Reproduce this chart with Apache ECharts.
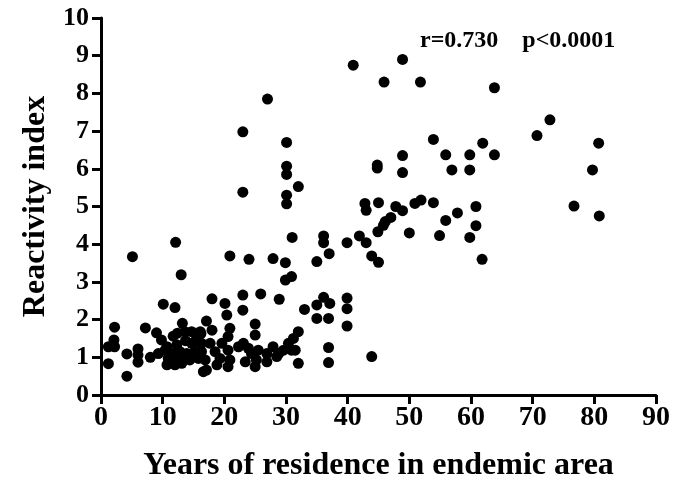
<!DOCTYPE html>
<html>
<head>
<meta charset="utf-8">
<script src="https://cdn.jsdelivr.net/npm/echarts@6/dist/echarts.min.js"></script>
<style>
html,body{margin:0;padding:0;background:#fff;}
#chart{width:684px;height:477px;}
</style>
</head>
<body>
<div id="chart"></div>
<script>
var years = [
  40.9, 48.9, 45.9, 51.8, 63.8, 27.0, 23.0, 72.8, 70.7, 53.9,
  30.1, 80.7, 61.9, 48.9, 55.9, 59.8, 63.8, 30.1, 30.1, 44.8,
  44.8, 48.9, 56.9, 59.8, 79.7, 32.0, 23.0, 30.1, 30.1, 42.8,
  43.0, 45.0, 47.8, 48.9, 50.9, 51.9, 53.9, 60.8, 76.7, 80.8,
  57.8, 55.9, 60.8, 47.0, 46.1, 45.8, 44.9, 50.0, 54.9, 59.8,
  41.9, 43.0, 39.9, 36.1, 36.1, 31.0, 12.1, 43.9, 45.0, 61.8,
  37.0, 35.0, 5.1, 20.9, 24.0, 27.9, 29.9, 29.9, 30.9, 13.0,
  10.1, 12.0, 18.0, 20.1, 23.0, 25.9, 28.9, 23.0, 20.4, 33.0,
  35.0, 36.1, 37.1, 39.9, 39.9, 35.0, 36.9, 39.9, 25.0, 17.1,
  18.0, 20.9, 16.1, 32.0, 20.6, 25.0, 31.2, 36.9, 36.9, 43.9,
  31.5, 32.0,
  2.2, 7.2, 9.0, 13.2, 2.1, 1.2, 2.2, 4.2, 1.2, 4.2,
  6.0, 6.0, 6.0, 8.0, 9.8, 10.7, 11.7, 12.4, 13.6, 14.7,
  15.5, 16.2, 13.7, 12.3, 14.7, 16.3, 9.3, 10.4, 11.5, 12.8,
  13.9, 15.2, 10.9, 12.3, 13.3, 14.4, 15.8, 12.0, 13.1, 10.7,
  16.6,
  15.8, 17.7, 19.6, 23.1, 30.4, 20.6, 23.9, 25.5, 27.9, 29.6,
  16.3, 18.5, 22.3, 24.4, 26.9, 28.8, 30.9, 16.9, 19.3, 20.9,
  25.2, 26.9, 28.5, 23.4, 25.0, 17.1, 20.6, 18.8
];
var reactivity = [
  8.75, 8.9, 8.3, 8.3, 8.15, 7.85, 6.98, 7.3, 6.88, 6.78,
  6.7, 6.68, 6.68, 6.35, 6.37, 6.37, 6.37, 6.07, 5.85, 6.1,
  6.02, 5.9, 5.97, 5.97, 5.97, 5.53, 5.38, 5.3, 5.07, 5.08,
  4.9, 5.1, 5.0, 4.89, 5.08, 5.17, 5.1, 5.0, 5.01, 4.75,
  4.83, 4.63, 4.49, 4.71, 4.6, 4.5, 4.33, 4.3, 4.23, 4.18,
  4.22, 4.04, 4.04, 4.22, 4.04, 4.18, 4.05, 3.69, 3.52, 3.6,
  3.75, 3.54, 3.67, 3.69, 3.6, 3.62, 3.51, 3.05, 3.14, 3.19,
  2.41, 2.32, 2.55, 2.43, 2.65, 2.68, 2.54, 2.25, 2.12, 2.27,
  2.39, 2.59, 2.43, 2.57, 2.29, 2.03, 2.03, 1.83, 1.88, 1.96,
  1.72, 1.77, 1.68, 1.68, 1.55, 1.59, 1.5, 1.26, 0.86, 1.02,
  1.19, 0.84,
  1.80, 1.78, 1.65, 1.9, 1.46, 1.28, 1.28, 1.09, 0.83, 0.5,
  1.22, 1.06, 0.87, 1.0, 1.46, 1.28, 1.56, 1.64, 1.68, 1.68,
  1.55, 1.63, 1.44, 1.33, 1.37, 1.37, 1.10, 1.19, 1.10, 1.15,
  1.10, 1.15, 0.97, 0.93, 0.97, 0.93, 0.97, 0.80, 0.84, 0.80,
  0.62,
  1.41, 1.37, 1.37, 1.37, 1.37, 1.19, 1.24, 1.19, 1.28, 1.19,
  1.15, 1.15, 1.28, 1.10, 1.10, 1.10, 1.19, 0.93, 0.97, 0.93,
  0.93, 0.88, 1.02, 0.88, 0.75, 0.66, 0.75, 0.80
];
var xTicks = {min: 0, max: 90, interval: 10};
var yTicks = {min: 0, max: 10, interval: 1};
var statText = 'r=0.730    p<0.0001';
var xName = 'Years of residence in endemic area';
var yName = 'Reactivity index';

var points = years.map(function (x, i) { return [x, reactivity[i]]; });
var font = "'Liberation Serif', 'Times New Roman', serif";

var chart = echarts.init(document.getElementById('chart'), null, {renderer: 'canvas'});
chart.setOption({
  animation: false,
  backgroundColor: '#fff',
  grid: {left: 101, right: 28, top: 18, bottom: 82, containLabel: false, outerBoundsMode: 'none'},
  title: {
    text: statText, left: 415, top: 24,
    textStyle: {fontFamily: font, fontWeight: 'bold', fontSize: 24, color: '#000'}
  },
  xAxis: {
    type: 'value', min: xTicks.min, max: xTicks.max, interval: xTicks.interval,
    name: xName, nameLocation: 'middle', nameGap: 55,
    nameTextStyle: {fontFamily: font, fontWeight: 'bold', fontSize: 32, color: '#000'},
    splitLine: {show: false},
    axisLine: {lineStyle: {color: '#000', width: 3}},
    axisTick: {length: 9, lineStyle: {color: '#000', width: 3}},
    axisLabel: {margin: 9, fontFamily: font, fontWeight: 'bold', fontSize: 28, color: '#000'}
  },
  yAxis: {
    type: 'value', min: yTicks.min, max: yTicks.max, interval: yTicks.interval,
    name: yName, nameLocation: 'middle', nameGap: 38,
    nameTextStyle: {fontFamily: font, fontWeight: 'bold', fontSize: 32, color: '#000'},
    splitLine: {show: false},
    axisLine: {show: true, lineStyle: {color: '#000', width: 3}},
    axisTick: {show: true, length: 9, lineStyle: {color: '#000', width: 3}},
    axisLabel: {margin: 12, fontFamily: font, fontWeight: 'bold', fontSize: 26, color: '#000'}
  },
  series: [{
    type: 'scatter', data: points, symbol: 'circle', symbolSize: 11,
    itemStyle: {color: '#000', opacity: 1}
  }]
});
</script>
</body>
</html>
